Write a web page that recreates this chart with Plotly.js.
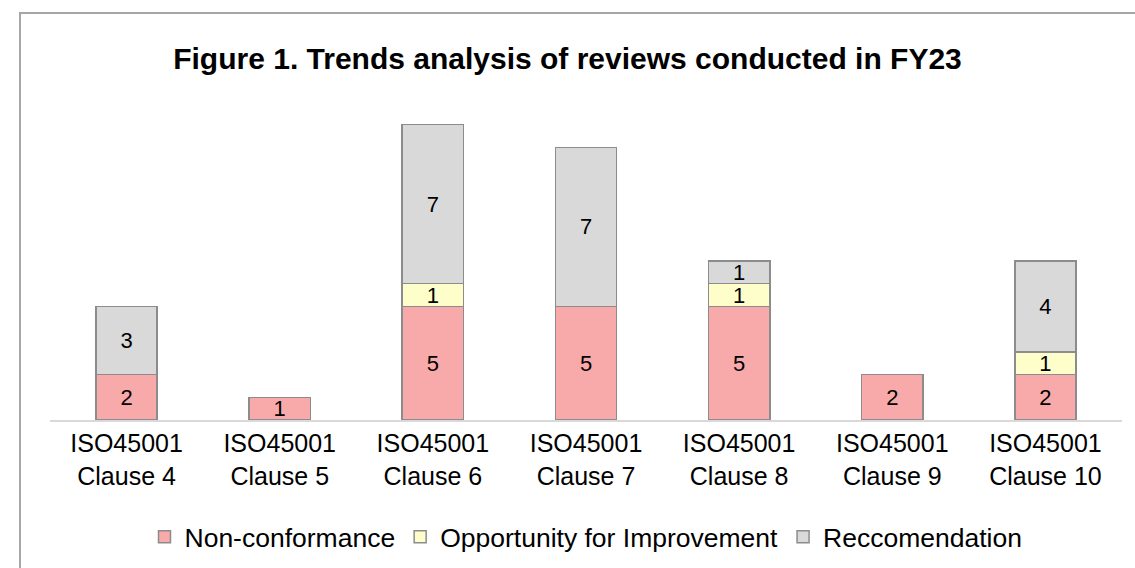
<!DOCTYPE html>
<html>
<head>
<meta charset="utf-8">
<script src="https://cdn.plot.ly/plotly-3.0.1.min.js"></script>
<style>
  html, body { margin: 0; padding: 0; background: #fff; overflow: hidden; }
  #frame {
    position: absolute; left: 19px; top: 12px; width: 1140px; height: 600px;
    border: 2px solid #a6a6a6; box-sizing: border-box;
  }
  #plot { position: absolute; left: 0; top: 0; width: 1135px; height: 620px; }
</style>
</head>
<body>
<div id="frame"></div>
<div id="plot"></div>
<script>
// categories and series values
var categories = ['ISO45001<br>Clause 4', 'ISO45001<br>Clause 5', 'ISO45001<br>Clause 6',
                  'ISO45001<br>Clause 7', 'ISO45001<br>Clause 8', 'ISO45001<br>Clause 9',
                  'ISO45001<br>Clause 10'];
var nonConformance = [2, 1, 5, 5, 5, 2, 2];
var opportunity = [0, 0, 1, 0, 1, 0, 1];
var recommendation = [3, 0, 7, 7, 1, 0, 4];

function makeTrace(name, values, color) {
    return {
        type: 'bar',
        name: name,
        x: categories,
        y: values.map(v => v === 0 ? null : v),
        text: values.map(v => v === 0 ? '' : String(v)),
        textposition: 'inside',
        insidetextanchor: 'middle',
        textangle: 0,
        constraintext: 'none',
        textfont: { size: 22, color: '#000' },
        hoverinfo: 'x+y+name',
        marker: { color: color, line: { color: '#8c8c8c', width: 1.5 } }
    };
}

var data = [
    makeTrace('Non-conformance', nonConformance, '#f8a9a9'),
    makeTrace('Opportunity for Improvement', opportunity, '#fefecb'),
    makeTrace('Reccomendation', recommendation, '#d9d9d9')
];

// page is 568 tall; the plot div runs a little past the bottom so the legend
// does not steal room from the bars
var layout = {
    width: 1135,
    height: 620,
    barmode: 'stack',
    bargap: 0.6,
    paper_bgcolor: 'rgba(0,0,0,0)',
    plot_bgcolor: 'rgba(0,0,0,0)',
    font: { family: 'Liberation Sans, Arial, sans-serif', color: '#000' },
    margin: { l: 50, r: 13, t: 102, b: 200 },
    title: {
        text: '<b>Figure 1. Trends analysis of reviews conducted in FY23</b>',
        font: { size: 30, color: '#000' },
        x: 0.5, xanchor: 'center', y: 0.906, yanchor: 'middle'
    },
    xaxis: {
        type: 'category',
        showline: true, linecolor: '#d9d9d9', linewidth: 2,
        ticks: '', tickfont: { size: 25, color: '#000' },
        fixedrange: true
    },
    yaxis: {
        range: [0, 14],
        visible: false, showgrid: false, zeroline: false,
        fixedrange: true
    },
    showlegend: true,
    legend: {
        orientation: 'h', x: 0.5, xanchor: 'center', y: -0.368, yanchor: 'middle',
        font: { size: 26.5, color: '#000' },
        traceorder: 'normal'
    }
};

Plotly.newPlot('plot', data, layout, { displayModeBar: false, staticPlot: true });
</script>
</body>
</html>
